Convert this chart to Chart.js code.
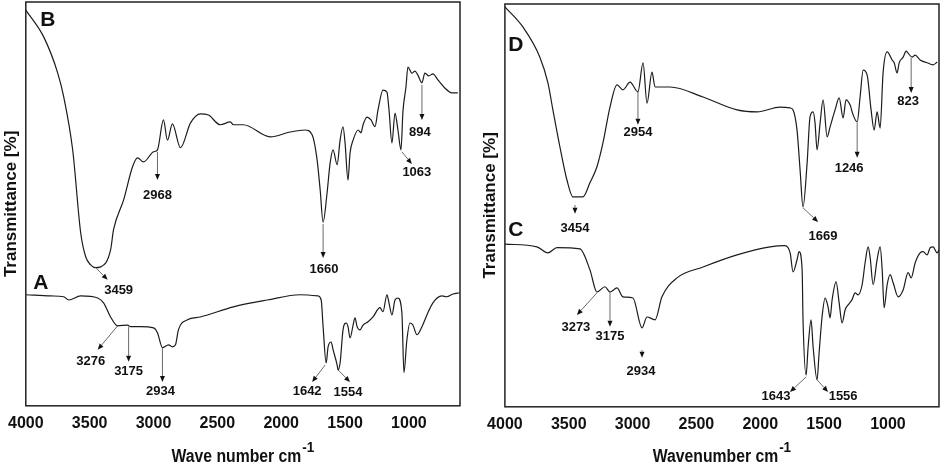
<!DOCTYPE html>
<html>
<head>
<meta charset="utf-8">
<title>FTIR spectra</title>
<script src="https://cdn.jsdelivr.net/npm/chart.js@4.4.1/dist/chart.umd.min.js"></script>
<style>
    html, body { margin: 0; padding: 0; background: #fff; }
    #wrap { position: relative; width: 941px; height: 465px; }
    #leftChart { position: absolute; left: 0; top: 0; }
    #rightChart { position: absolute; left: 470px; top: 0; }
</style>
</head>
<body>
<div id="wrap">
    <canvas id="leftChart" width="470" height="465"></canvas>
    <canvas id="rightChart" width="471" height="465"></canvas>
</div>
<script>
const waveTicks = [4000, 3500, 3000, 2500, 2000, 1500, 1000];

// spectrum B (upper, left panel)
const waveB = [4000, 3859, 3750, 3703, 3633, 3570, 3531, 3492, 3453, 3414, 3336, 3313, 3234, 3164, 3125, 3078, 3000, 2969, 2922, 2891,
    2852, 2789, 2711, 2633, 2570, 2477, 2398, 2375, 2297, 2086, 1930, 1812, 1758, 1719, 1695, 1672, 1641, 1617, 1594, 1562,
    1539, 1516, 1500, 1477, 1461, 1437, 1398, 1375, 1359, 1328, 1297, 1266, 1242, 1203, 1172, 1156, 1133, 1109, 1086, 1062,
    1047, 1023, 1008, 977, 953, 930, 898, 875, 844, 812, 773, 719, 664, 617];
const transB = [98.0, 91.3, 82.4, 76.5, 63.4, 42.8, 36.9, 34.9, 34.2, 34.4, 38.6, 43.6, 51.0, 59.2, 61.4, 60.4, 62.9, 63.4, 70.8, 65.8,
    69.8, 63.9, 70.0, 72.3, 72.0, 69.6, 70.3, 69.6, 69.6, 66.6, 67.8, 68.3, 67.1, 60.9, 53.5, 45.5, 52.7, 60.1, 63.4, 59.7,
    65.8, 69.1, 65.1, 55.9, 62.6, 65.8, 68.3, 67.6, 69.6, 71.5, 70.8, 69.1, 73.3, 78.2, 77.7, 73.3, 65.1, 72.5, 68.3, 63.4,
    72.8, 79.0, 83.9, 82.4, 82.9, 81.9, 80.0, 82.4, 81.7, 82.2, 80.7, 78.7, 77.5, 77.5];

// spectrum A (lower, left panel)
const waveA = [4000, 3805, 3703, 3664, 3570, 3437, 3391, 3336, 3281, 3203, 3180, 3102, 3000, 2969, 2930, 2883, 2852, 2828, 2805, 2734,
    2633, 2375, 2109, 1852, 1711, 1687, 1672, 1648, 1633, 1609, 1594, 1562, 1555, 1539, 1516, 1492, 1477, 1461, 1437, 1422,
    1406, 1383, 1359, 1320, 1281, 1227, 1203, 1172, 1156, 1133, 1109, 1086, 1055, 1039, 1016, 992, 969, 937, 898, 859,
    812, 742, 703, 656, 602];
const transA = [27.5, 27.2, 27.0, 26.2, 27.2, 26.7, 25.5, 22.0, 19.8, 20.0, 19.6, 19.6, 19.3, 18.1, 14.4, 15.1, 14.6, 15.1, 18.8, 21.3,
    22.0, 24.5, 26.2, 27.5, 27.2, 26.2, 19.6, 10.6, 14.6, 15.8, 13.9, 10.1, 8.9, 10.6, 18.8, 20.5, 19.6, 16.8, 20.0, 21.8,
    19.6, 18.8, 20.0, 20.8, 22.0, 24.3, 23.3, 27.5, 25.5, 22.5, 26.2, 26.7, 23.0, 8.2, 16.3, 20.5, 20.0, 17.6, 19.6, 22.5,
    25.5, 27.2, 27.0, 27.7, 28.0];

// spectrum D (upper, right panel)
const waveD = [4000, 3859, 3726, 3663, 3624, 3569, 3514, 3467, 3389, 3334, 3279, 3232, 3177, 3122, 3075, 3020, 2958, 2918, 2887, 2848,
    2824, 2707, 2448, 2182, 2025, 1845, 1766, 1743, 1712, 1688, 1665, 1633, 1610, 1586, 1571, 1555, 1531, 1508, 1476, 1453,
    1414, 1382, 1351, 1328, 1296, 1273, 1241, 1218, 1194, 1163, 1132, 1108, 1085, 1061, 1038, 1006, 967, 951, 928, 912,
    881, 857, 842, 810, 787, 748, 693, 646, 614];
const transD = [99.3, 94.3, 86.8, 80.4, 73.7, 64.5, 56.3, 52.1, 52.1, 55.6, 59.6, 65.5, 74.4, 79.9, 78.7, 80.6, 78.2, 85.4, 75.4, 83.1,
    79.4, 79.4, 76.9, 73.7, 73.2, 74.4, 74.2, 73.7, 68.7, 58.8, 49.6, 60.5, 72.0, 73.2, 70.5, 63.8, 70.5, 76.2, 67.0, 69.5,
    73.7, 76.7, 71.7, 76.2, 74.9, 72.5, 70.7, 76.9, 83.6, 82.4, 73.7, 68.7, 73.2, 69.2, 82.9, 88.1, 86.1, 85.4, 82.9, 85.4,
    86.8, 88.3, 87.8, 86.8, 87.3, 86.1, 85.4, 84.9, 85.6];

// spectrum C (lower, right panel)
const waveC = [4000, 3749, 3663, 3592, 3412, 3334, 3279, 3216, 3177, 3122, 3075, 2997, 2926, 2887, 2824, 2770, 2652, 2448, 2182, 1923,
    1806, 1766, 1743, 1712, 1696, 1672, 1665, 1641, 1625, 1602, 1586, 1555, 1539, 1516, 1492, 1469, 1453, 1437, 1406, 1382,
    1359, 1335, 1312, 1281, 1257, 1234, 1202, 1179, 1155, 1139, 1116, 1085, 1061, 1045, 1030, 1006, 983, 959, 920, 881,
    842, 818, 787, 748, 724, 693, 669, 646, 614, 600];
const transC = [40.4, 39.7, 38.2, 39.5, 39.2, 34.0, 28.5, 29.8, 28.5, 29.5, 27.3, 27.0, 19.6, 22.3, 21.6, 27.3, 32.0, 34.7, 37.7, 39.7,
    40.0, 38.2, 33.5, 36.5, 38.5, 34.0, 21.6, 7.9, 14.9, 21.6, 14.9, 6.7, 13.4, 22.3, 27.0, 24.8, 22.1, 26.6, 31.0, 25.8,
    20.8, 24.1, 25.3, 26.6, 28.3, 27.8, 30.3, 35.7, 39.7, 37.0, 30.3, 36.5, 39.7, 34.0, 24.6, 30.3, 32.8, 30.8, 27.3, 29.0,
    33.3, 32.0, 35.7, 38.2, 38.5, 37.7, 39.5, 39.7, 38.2, 39.0];

// peak labels: [text, arrow from (wave, T), arrow to (wave, T), label at (wave, T)]
const peaksLeft = [
    ['2968', 2969, 62.9, 2969, 55.9, 2969, 52.2],
    ['894', 898, 79.5, 898, 70.8, 914, 67.6],
    ['1063', 1055, 62.9, 977, 59.9, 938, 57.7],
    ['1660', 1672, 45.0, 1672, 36.6, 1665, 33.7],
    ['3459', 3453, 34.2, 3359, 31.2, 3273, 28.5],
    ['3276', 3281, 19.8, 3437, 13.9, 3492, 10.9],
    ['3175', 3195, 19.6, 3195, 10.9, 3195, 8.4],
    ['2934', 2930, 14.4, 2930, 5.9, 2945, 3.5],
    ['1642', 1656, 10.1, 1758, 5.9, 1797, 3.5],
    ['1554', 1555, 8.9, 1461, 5.9, 1477, 3.2]
];
const peaksRight = [
    ['2954', 2958, 78.2, 2958, 70.0, 2958, 68.0],
    ['3454', 3451, 50.1, 3451, 47.9, 3451, 44.4],
    ['1669', 1665, 49.4, 1547, 45.9, 1508, 42.2],
    ['1246', 1241, 70.5, 1241, 61.8, 1304, 59.3],
    ['823', 818, 86.6, 818, 77.9, 842, 75.7],
    ['3273', 3279, 28.3, 3436, 22.8, 3444, 19.6],
    ['3175', 3177, 28.5, 3177, 19.9, 3177, 17.4],
    ['2934', 2926, 14.1, 2926, 12.2, 2934, 8.7],
    ['1643', 1641, 7.4, 1767, 3.7, 1876, 2.5],
    ['1556', 1555, 6.7, 1469, 3.7, 1351, 2.5]
];

const lettersLeft = [['B', 3828, 95.5], ['A', 3883, 30.4]];
const lettersRight = [['D', 3914, 89.8], ['C', 3914, 43.9]];

const FONT = '"Liberation Sans", Arial, Helvetica, sans-serif';
Chart.defaults.font.family = FONT;

function drawArrow(ctx, x0, y0, x1, y1) {
    const ang = Math.atan2(y1 - y0, x1 - x0);
    const len = 6, half = 2.5;
    const bx = x1 - len * Math.cos(ang);
    const by = y1 - len * Math.sin(ang);
    ctx.strokeStyle = '#6a6a6a';
    ctx.lineWidth = 1;
    ctx.beginPath();
    ctx.moveTo(x0, y0);
    ctx.lineTo(bx, by);
    ctx.stroke();
    ctx.fillStyle = '#111';
    ctx.beginPath();
    ctx.moveTo(x1, y1);
    ctx.lineTo(bx + half * Math.sin(ang), by - half * Math.cos(ang));
    ctx.lineTo(bx - half * Math.sin(ang), by + half * Math.cos(ang));
    ctx.closePath();
    ctx.fill();
}

// frame, panel letters, peak arrows and the x title with its superscript
const spectrumMarks = {
    id: 'spectrumMarks',
    afterDatasetsDraw(chart, args, opts) {
        const ctx = chart.ctx;
        const a = chart.chartArea;
        const x = chart.scales.x;
        const y = chart.scales.y;
        ctx.save();

        ctx.strokeStyle = '#222';
        ctx.lineWidth = 1.5;
        ctx.strokeRect(a.left, a.top, a.right - a.left, a.bottom - a.top);

        ctx.textAlign = 'center';
        ctx.textBaseline = 'middle';
        ctx.fillStyle = '#111';
        ctx.font = 'bold 21px ' + FONT;
        opts.letters.forEach(([t, w, v]) => {
            ctx.fillText(t, x.getPixelForValue(w), y.getPixelForValue(v));
        });

        opts.peaks.forEach(([t, w0, v0, w1, v1, tw, tv]) => {
            drawArrow(ctx, x.getPixelForValue(w0), y.getPixelForValue(v0),
                x.getPixelForValue(w1), y.getPixelForValue(v1));
            ctx.fillStyle = '#111';
            ctx.font = 'bold 13px ' + FONT;
            ctx.fillText(t, x.getPixelForValue(tw), y.getPixelForValue(tv));
        });

        // x axis title, slightly narrowed like the original
        const squeeze = 0.9;
        ctx.textAlign = 'left';
        ctx.textBaseline = 'alphabetic';
        ctx.font = 'bold 17.5px ' + FONT;
        const baseW = ctx.measureText(opts.title).width;
        ctx.font = 'bold 15px ' + FONT;
        const supW = ctx.measureText('-1').width;
        const total = (baseW + supW + 1) * squeeze;
        const cx = (a.left + a.right) / 2;
        ctx.translate(cx - total / 2, chart.height - 3);
        ctx.scale(squeeze, 1);
        ctx.font = 'bold 17.5px ' + FONT;
        ctx.fillText(opts.title, 0, 0);
        ctx.font = 'bold 15px ' + FONT;
        ctx.fillText('-1', baseW + 1, -10);

        ctx.restore();
    }
};

function buildOptions(peaks, letters, title, padding) {
    return {
        responsive: false,
        animation: false,
        layout: { padding: padding },
        elements: {
            point: { radius: 0 },
            line: { borderWidth: 1.2, borderColor: '#1c1c1c', cubicInterpolationMode: 'monotone' }
        },
        plugins: {
            legend: { display: false },
            tooltip: { enabled: false },
            spectrumMarks: { peaks: peaks, letters: letters, title: title }
        },
        scales: {
            x: {
                type: 'linear',
                reverse: true,
                min: 600,
                max: 4000,
                grid: { display: false, drawTicks: false },
                border: { display: false },
                afterBuildTicks: scale => {
                    scale.ticks = waveTicks.map(v => ({ value: v }));
                },
                ticks: {
                    autoSkip: false,
                    maxRotation: 0,
                    padding: 8,
                    color: '#111',
                    font: { size: 16, weight: 'bold' },
                    callback: v => String(v)
                }
            },
            y: {
                min: 0,
                max: 100,
                grid: { display: false, drawTicks: false },
                border: { display: false },
                ticks: { display: false },
                title: {
                    display: true,
                    text: 'Transmittance [%]',
                    color: '#111',
                    font: { size: 17, weight: 'bold' },
                    padding: { top: 0, bottom: 4 }
                }
            }
        }
    };
}

function toPoints(waves, values) {
    return waves.map((w, i) => ({ x: w, y: values[i] }));
}

function LeftChart() {
    const ctx = document.getElementById('leftChart').getContext('2d');
    return new Chart(ctx, {
        type: 'line',
        data: {
            datasets: [
                { label: 'B', data: toPoints(waveB, transB) },
                { label: 'A', data: toPoints(waveA, transA) }
            ]
        },
        options: buildOptions(peaksLeft, lettersLeft, 'Wave number cm', { left: 0, top: 2, right: 10, bottom: 24 }),
        plugins: [spectrumMarks]
    });
}

function RightChart() {
    const ctx = document.getElementById('rightChart').getContext('2d');
    return new Chart(ctx, {
        type: 'line',
        data: {
            datasets: [
                { label: 'D', data: toPoints(waveD, transD) },
                { label: 'C', data: toPoints(waveC, transC) }
            ]
        },
        options: buildOptions(peaksRight, lettersRight, 'Wavenumber cm', { left: 10.5, top: 4, right: 2, bottom: 23 }),
        plugins: [spectrumMarks]
    });
}

LeftChart();
RightChart();
</script>
</body>
</html>
